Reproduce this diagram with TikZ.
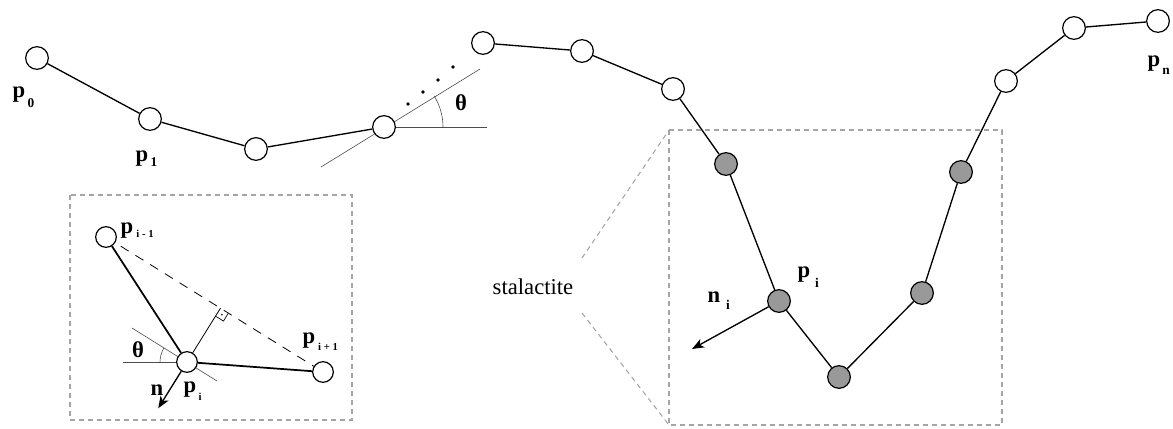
\documentclass[tikz,border=0pt]{standalone}
\usepackage{fontspec}
\setmainfont{Liberation Serif}
\usetikzlibrary{arrows.meta,backgrounds,calc}
\definecolor{nodegray}{RGB}{153,153,153}
\definecolor{boxgray}{RGB}{165,165,165}
\tikzset{
  pt/.style={circle,draw,line width=0.9pt,minimum size=17pt,inner sep=0pt,fill=white},
  gpt/.style={pt,fill=nodegray},
  ipt/.style={circle,draw,line width=0.9pt,minimum size=15.5pt,inner sep=0pt,fill=white},
  chainline/.style={line width=1pt},
  ichain/.style={line width=1.3pt},
  thinline/.style={line width=0.45pt,draw=black!70},
  graybox/.style={draw=boxgray,line width=0.8pt,dash pattern=on 3.75pt off 3pt},
  lab/.style={font=\fontsize{17}{17}\selectfont\bfseries,inner sep=0pt},
  sublab/.style={font=\fontsize{10}{10}\selectfont\bfseries,inner sep=0pt},
  isublab/.style={font=\fontsize{8}{8}\selectfont\bfseries,inner sep=0pt},
  arr/.style={line width=1pt,-{Stealth[length=9pt,width=7pt,inset=2.5pt]}},
}
\begin{document}
\begin{tikzpicture}[x=0.75pt,y=-0.75pt]
\useasboundingbox (0,0) rectangle (1173,428);

% ---------- top chain ----------
\node[pt] (p0) at (37,58) {};
\node[pt] (p1) at (150,119) {};
\node[pt] (c2) at (256,149) {};
\node[pt] (c3) at (384,127) {};
\node[pt] (c4) at (483,43) {};
\node[pt] (c5) at (582,51) {};
\node[pt] (c6) at (673,89) {};
\node[gpt] (g1) at (726,164) {};
\node[gpt] (pi) at (779,301) {};
\node[gpt] (g2) at (839,377) {};
\node[gpt] (g3) at (922,293) {};
\node[gpt] (g4) at (961,172) {};
\node[pt] (c7) at (1006,81) {};
\node[pt] (c8) at (1074,28) {};
\node[pt] (pn) at (1158,21) {};

\coordinate (t1) at (321,167);
\coordinate (t2) at (480,69);
\coordinate (h1) at (487,127);

\begin{scope}[on background layer]
  \foreach \a/\b in {p0/p1,p1/c2,c2/c3,c4/c5,c5/c6,c6/g1,g1/pi,pi/g2,g2/g3,g3/g4,g4/c7,c7/c8,c8/pn}
    \draw[chainline] (\a) -- (\b);
  \draw[thinline] (t1) -- (t2);
  \draw[thinline] (c3.center) -- (h1);
\end{scope}
\draw[thinline] ($(c3.center)+(59,0)$) arc[start angle=0,end angle=-31.6,radius=59];

\foreach \p in {(408,104),(423,92),(438,80),(453,67)}
  \fill \p circle (1.9);

\node[lab] (th1) at (461,103) {θ};

\node[lab] (lp0) at (19,95) {p};
\node[sublab] (lp0s) at (31,103) {0};
\node[lab] (lp1) at (142,159) {p};
\node[sublab] (lp1s) at (154,162) {1};
\node[lab] (lpn) at (1154,64) {p};
\node[sublab] (lpns) at (1166,71) {n};

% ---------- stalactite box ----------
\coordinate (bx1) at (669,130);
\coordinate (bx2) at (669,425);
\coordinate (bx3) at (1002,425);
\coordinate (bx4) at (1002,130);
\coordinate (sl1) at (582,258);
\coordinate (sl2) at (582,313);
\begin{scope}[on background layer]
  \draw[graybox] (bx1) -- (bx2) -- (bx3) -- (bx4) -- cycle;
  \draw[graybox] (sl1) -- (bx1);
  \draw[graybox] (sl2) -- (bx2);
\end{scope}
\node[font=\fontsize{17}{17}\selectfont,inner sep=0pt] (st) at (533,287) {stalactite};

\coordinate (nt) at (692,349);
\draw[arr] (pi) -- (nt);
\node[lab] (lpi) at (804,275) {p};
\node[sublab] (lpis) at (817,283) {i};
\node[lab] (lni) at (714,297) {n};
\node[sublab] (lnis) at (728,305) {i};

% ---------- inset ----------
\coordinate (ib1) at (70,195);
\coordinate (ib2) at (352,420);
\draw[graybox] (ib1) rectangle (ib2);

\node[ipt] (qa) at (106,237) {};
\node[ipt] (qi) at (187,362) {};
\node[ipt] (qb) at (323,372) {};
\coordinate (f) at ($(qa)!(qi)!(qb)$);
\coordinate (t3) at (132,328);
\coordinate (t4) at (217,381);
\coordinate (h2) at (123,362);
\coordinate (itip) at ($(f)!1.86!(qi)$);

\begin{scope}[on background layer]
  \draw[ichain] (qa) -- (qi);
  \draw[ichain] (qi) -- (qb);
  \draw[line width=0.6pt,dash pattern=on 7pt off 6pt] (qa.center) -- (qb.center);
  \draw[line width=0.6pt] (qi.center) -- (f);
  \draw[thinline] (t3) -- (t4);
  \draw[thinline] (h2) -- (qi.center);
\end{scope}
\draw[thinline] ($(qi.center)+(-27,0)$) arc[start angle=180,end angle=212,radius=27];
\coordinate (m1) at ($(f)!7pt!(qb)$);
\coordinate (m3) at ($(f)!7pt!(qi)$);
\draw[line width=0.5pt] (m1) -- ($(m1)+(m3)-(f)$) -- (m3);
\fill ($(f)!0.5!($(m1)+(m3)-(f)$)$) circle (0.9);
\draw[arr] (qi) -- (itip);

\node[lab] (th2) at (138,350) {θ};
\node[lab] (ln) at (157,390) {n};
\node[lab] (lqi) at (190,390) {p};
\node[isublab] (lqis) at (200,397) {i};
\node[lab] (lqa) at (127,231) {p};
\node[isublab] (lqas) at (145,234) {i - 1};
\node[lab] (lqb) at (309,341) {p};
\node[isublab] (lqbs) at (328,347) {i + 1};
\end{tikzpicture}
\end{document}
